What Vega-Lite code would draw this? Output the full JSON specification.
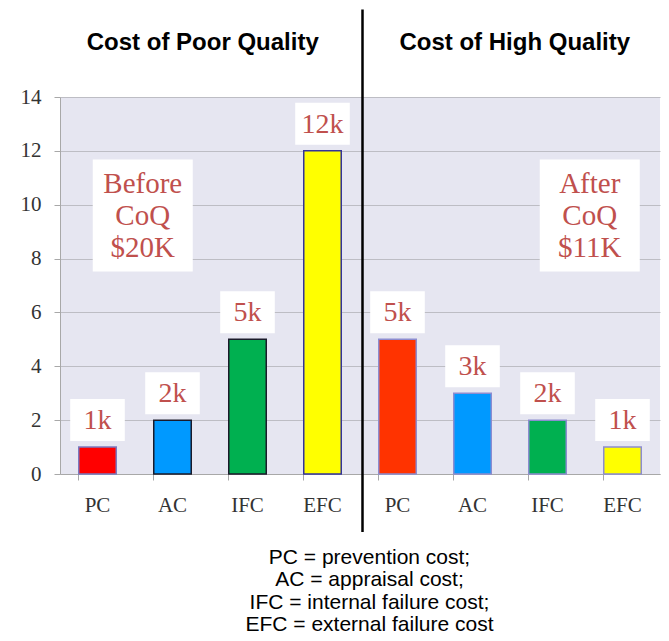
{
  "$schema": "https://vega.github.io/schema/vega-lite/v6.json",
  "width": 600,
  "height": 377,
  "autosize": "none",
  "padding": {"left": 60, "top": 97, "right": 9, "bottom": 167},
  "background": "white",
  "config": {"view": {"fill": "#e6e6f1", "stroke": null}},
  "datasets": {
    "bars": [
      {"slot": "B-PC", "value": 1, "label": "1k"},
      {"slot": "B-AC", "value": 2, "label": "2k"},
      {"slot": "B-IFC", "value": 5, "label": "5k"},
      {"slot": "B-EFC", "value": 12, "label": "12k"},
      {"slot": "A-PC", "value": 5, "label": "5k"},
      {"slot": "A-AC", "value": 3, "label": "3k"},
      {"slot": "A-IFC", "value": 2, "label": "2k"},
      {"slot": "A-EFC", "value": 1, "label": "1k"}
    ],
    "notes": [
      {"slot": "B-AC", "v": 9.6, "note": ["Before", "CoQ", "$20K"], "dx": -11},
      {"slot": "A-EFC", "v": 9.6, "note": ["After", "CoQ", "$11K"], "dx": -14}
    ],
    "titles": [
      {"slot": "B-AC", "v": 16.0, "t": "Cost of Poor Quality", "dx": 49},
      {"slot": "A-AC", "v": 16.0, "t": "Cost of High Quality", "dx": 61}
    ],
    "divider": [
      {"slot": "A-PC", "top": 17.25, "bottom": -2.15}
    ]
  },
  "encoding": {
    "x": {
      "field": "slot",
      "type": "nominal",
      "sort": null,
      "scale": {"domain": ["B-PC", "B-AC", "B-IFC", "B-EFC", "A-PC", "A-AC", "A-IFC", "A-EFC"], "paddingInner": 0.5, "paddingOuter": 0.25},
      "axis": {
        "labelExpr": "slice(datum.value, 2)",
        "labelAngle": 0,
        "labelFont": "Liberation Serif",
        "labelFontSize": 21,
        "labelColor": "#333333",
        "labelPadding": 14,
        "bandPosition": 0,
        "tickSize": 6,
        "tickColor": "#a8a8a8",
        "domainColor": "#a8a8a8",
        "grid": false,
        "title": ["PC = prevention cost;", "AC = appraisal cost;", "IFC = internal failure cost;", "EFC = external failure cost"],
        "titleFont": "Liberation Sans",
        "titleFontSize": 21,
        "titleFontWeight": "normal",
        "titleColor": "#000000",
        "titleLineHeight": 22.5,
        "titlePadding": 31,
        "titleX": 309
      }
    }
  },
  "layer": [
    {
      "data": {"name": "bars"},
      "mark": {"type": "bar", "strokeWidth": 1.5},
      "encoding": {
        "y": {
          "field": "value",
          "type": "quantitative",
          "scale": {"domain": [0, 14], "nice": false},
          "axis": {
            "values": [0, 2, 4, 6, 8, 10, 12, 14],
            "labelFont": "Liberation Serif",
            "labelFontSize": 21,
            "labelColor": "#333333",
            "labelPadding": 13,
            "tickSize": 6,
            "tickColor": "#a8a8a8",
            "domainColor": "#a8a8a8",
            "gridColor": "#bdbdc4",
            "gridWidth": 1.2,
            "title": null
          }
        },
        "color": {
          "field": "slot",
          "type": "nominal",
          "scale": {"domain": ["B-PC", "B-AC", "B-IFC", "B-EFC", "A-PC", "A-AC", "A-IFC", "A-EFC"], "range": ["#ff0000", "#0099ff", "#00b050", "#ffff00", "#ff3300", "#0099ff", "#00b050", "#ffff00"]},
          "legend": null
        },
        "stroke": {
          "field": "slot",
          "type": "nominal",
          "scale": {"domain": ["B-PC", "B-AC", "B-IFC", "B-EFC", "A-PC", "A-AC", "A-IFC", "A-EFC"], "range": ["#7a7ac0", "#1a1a2a", "#1a1a2a", "#33339a", "#8c8cd0", "#8c8cd0", "#8c8cd0", "#8c8cd0"]},
          "legend": null
        }
      }
    },
    {
      "data": {"name": "bars"},
      "mark": {"type": "point", "shape": "M-1.3,-1L1.3,-1L1.3,1L-1.3,1Z", "size": 1764, "filled": true, "fill": "white", "opacity": 1, "strokeWidth": 0, "yOffset": -27},
      "encoding": {"y": {"field": "value", "type": "quantitative"}}
    },
    {
      "data": {"name": "bars"},
      "mark": {"type": "text", "font": "Liberation Serif", "fontSize": 28, "color": "#c0504d", "baseline": "middle", "align": "center", "yOffset": -26},
      "encoding": {"y": {"field": "value", "type": "quantitative"}, "text": {"field": "label"}}
    },
    {
      "data": {"name": "notes"},
      "mark": {"type": "point", "shape": "M-0.893,-1L0.893,-1L0.893,1L-0.893,1Z", "size": 12544, "filled": true, "fill": "white", "opacity": 1, "strokeWidth": 0},
      "encoding": {"y": {"field": "v", "type": "quantitative"}, "xOffset": {"field": "dx", "type": "quantitative", "scale": null}}
    },
    {
      "data": {"name": "notes"},
      "mark": {"type": "text", "font": "Liberation Serif", "fontSize": 29, "color": "#c0504d", "baseline": "middle", "align": "center", "lineHeight": 32, "yOffset": -31},
      "encoding": {"y": {"field": "v", "type": "quantitative"}, "text": {"field": "note"}, "xOffset": {"field": "dx", "type": "quantitative", "scale": null}}
    },
    {
      "data": {"name": "titles"},
      "mark": {"type": "text", "font": "Liberation Sans", "fontSize": 24, "fontWeight": "bold", "color": "#000000", "baseline": "middle", "align": "center"},
      "encoding": {"y": {"field": "v", "type": "quantitative"}, "text": {"field": "t"}, "xOffset": {"field": "dx", "type": "quantitative", "scale": null}}
    },
    {
      "data": {"name": "divider"},
      "mark": {"type": "rule", "color": "#000000", "strokeWidth": 2.5, "xOffset": -35},
      "encoding": {"y": {"field": "top", "type": "quantitative"}, "y2": {"field": "bottom"}}
    }
  ]
}
